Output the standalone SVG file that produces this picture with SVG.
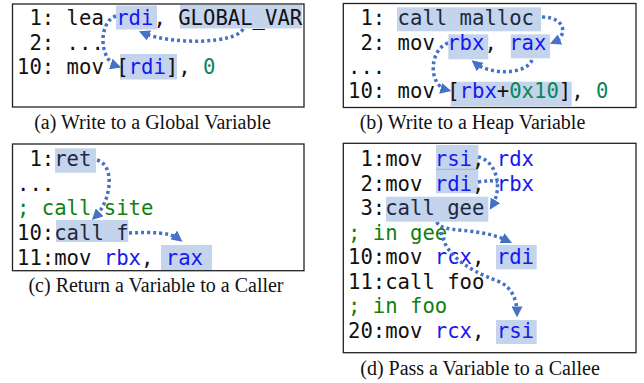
<svg xmlns="http://www.w3.org/2000/svg" width="644" height="383" viewBox="0 0 644 383">
<defs>
<marker id="ah" viewBox="0 0 10 10" refX="6" refY="5" markerWidth="11" markerHeight="11" markerUnits="userSpaceOnUse" orient="auto">
<path d="M0,0 L10,5 L0,10 z" fill="#4472c4"/>
</marker>
<style>
.box{fill:#fff;stroke:#222;stroke-width:1.3}
.hl{fill:#c5d4ed}
.code{font-family:"DejaVu Sans Mono",monospace;font-size:20.6px;fill:#111;white-space:pre}
.r{fill:#1818f0}
.n{fill:#098658}
.c{fill:#108010}
.d{fill:#1c2840}
.cap{font-family:"Liberation Serif",serif;font-size:20px;fill:#111;text-anchor:middle}
.arr{fill:none;stroke:#4472c4;stroke-width:3.5;stroke-dasharray:3 3;marker-end:url(#ah)}
.seg{fill:none;stroke:#4472c4;stroke-width:3.5;stroke-dasharray:3 3}
</style>
</defs>
<rect width="644" height="383" fill="#fff"/>

<g id="panel-a">
<rect class="box" x="12.5" y="4" width="291.5" height="103"/>
<rect class="hl" x="116" y="5.5" width="41" height="24"/>
<rect class="hl" x="180" y="5" width="122" height="23.5"/>
<rect class="hl" x="120" y="54" width="57" height="25.5"/>
<text class="code" x="17" y="25" xml:space="preserve"> 1: lea <tspan class="r">rdi</tspan>, GLOBAL_VAR</text>
<text class="code" x="17" y="49.5" xml:space="preserve"> 2: ...</text>
<text class="code" x="17" y="74" xml:space="preserve">10: mov [<tspan class="r">rdi</tspan>], <tspan class="n">0</tspan></text>
<text class="cap" x="152.5" y="128.5">(a) Write to a Global Variable</text>
</g>

<g id="panel-b">
<rect class="box" x="343.3" y="3.5" width="292.7" height="104"/>
<rect class="hl" x="397" y="7.3" width="144" height="24"/>
<rect class="hl" x="448.3" y="34.3" width="40" height="25"/>
<rect class="hl" x="510.7" y="34.3" width="39.3" height="24"/>
<rect class="hl" x="450.7" y="81.7" width="121" height="24.5"/>
<text class="code" x="348" y="25" xml:space="preserve"> 1: <tspan class="d">call malloc</tspan></text>
<text class="code" x="348" y="49.5" xml:space="preserve"> 2: mov <tspan class="r">rbx</tspan>, <tspan class="r">rax</tspan></text>
<text class="code" x="348" y="74" xml:space="preserve">...</text>
<text class="code" x="348" y="98" xml:space="preserve">10: mov [<tspan class="r">rbx</tspan>+<tspan class="n">0x10</tspan>], <tspan class="n">0</tspan></text>
<text class="cap" x="472.5" y="128.5">(b) Write to a Heap Variable</text>
</g>

<g id="panel-c">
<rect class="box" x="12.5" y="144" width="291.5" height="126.7"/>
<rect class="hl" x="55" y="148.3" width="41" height="24.4"/>
<rect class="hl" x="56" y="220" width="72.3" height="22"/>
<rect class="hl" x="161" y="245" width="51" height="25"/>
<text class="code" x="17" y="166" xml:space="preserve"> 1:<tspan class="d">ret</tspan></text>
<text class="code" x="17" y="190.5" xml:space="preserve">...</text>
<text class="code c" x="17" y="215" xml:space="preserve">; call site</text>
<text class="code" x="17" y="240" xml:space="preserve">10:<tspan class="d">call f</tspan></text>
<text class="code" x="17" y="264.5" xml:space="preserve">11:mov <tspan class="r">rbx</tspan>, <tspan class="r">rax</tspan></text>
<text class="cap" x="156" y="291.5">(c) Return a Variable to a Caller</text>
</g>

<g id="panel-d">
<rect class="box" x="343.3" y="143.3" width="292.7" height="209.4"/>
<rect class="hl" x="436" y="145" width="42.3" height="24.3"/>
<rect class="hl" x="436" y="169.3" width="42.3" height="24"/>
<line x1="436" y1="169.3" x2="478.3" y2="169.3" stroke="#8ea4c8" stroke-width="0.8"/>
<rect class="hl" x="386" y="196.7" width="102.3" height="25"/>
<rect class="hl" x="496" y="245" width="40.7" height="24.3"/>
<rect class="hl" x="496" y="320" width="40.7" height="24"/>
<text class="code" x="348" y="166" xml:space="preserve"> 1:mov <tspan class="r">rsi</tspan>, <tspan class="r">rdx</tspan></text>
<text class="code" x="348" y="190.5" xml:space="preserve"> 2:mov <tspan class="r">rdi</tspan>, <tspan class="r">rbx</tspan></text>
<text class="code" x="348" y="215" xml:space="preserve"> 3:<tspan class="d">call gee</tspan></text>
<text class="code c" x="348" y="239.5" xml:space="preserve">; in gee</text>
<text class="code" x="348" y="264" xml:space="preserve">10:mov <tspan class="r">rcx</tspan>, <tspan class="r">rdi</tspan></text>
<text class="code" x="348" y="288.5" xml:space="preserve">11:call foo</text>
<text class="code c" x="348" y="313" xml:space="preserve">; in foo</text>
<text class="code" x="348" y="338" xml:space="preserve">20:mov <tspan class="r">rcx</tspan>, <tspan class="r">rsi</tspan></text>
<text class="cap" x="480" y="374.5">(d) Pass a Variable to a Callee</text>
</g>

<g id="connectors">
<path class="arr" d="M243,29 C236,44 172,45 143,33"/>
<path class="arr" d="M116,16 C98,22 99,60 117,66"/>
<path class="arr" d="M542,17 C566,17 568,36 554,42"/>
<path class="arr" d="M532,60 C526,75 490,75 475,63"/>
<path class="arr" d="M448,43 C429,50 428,85 447,90"/>
<path class="arr" d="M97,160 C115,165 112,200 95,217"/>
<path class="arr" d="M129,233 C150,232 170,232 179,239"/>
<path class="arr" d="M478,157 C495,160 504,186 492,206"/>
<path class="seg" d="M478,182 C486,181 492,180 498,182"/>
<path class="arr" d="M437,222 C440,234 478,226 508,241"/>
<path class="arr" d="M441,232 C445,252 462,268 500,282 C512,288 517,300 517,313"/>
</g>
</svg>
